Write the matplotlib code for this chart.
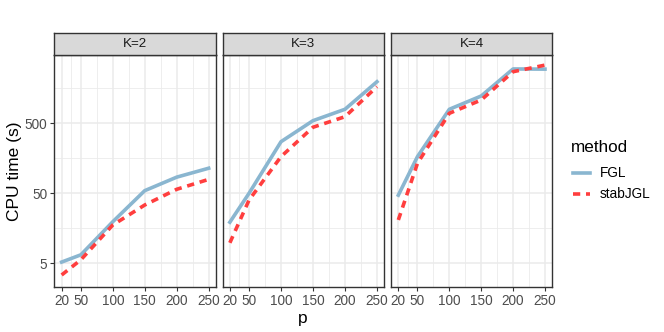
import numpy as np
import matplotlib
matplotlib.use("Agg")
import matplotlib.pyplot as plt
from matplotlib.ticker import FixedLocator, NullFormatter

plt.rcParams['font.family'] = ['Liberation Sans', 'DejaVu Sans']

# data
p = [20, 50, 100, 150, 200, 250]
panels = ["K=2", "K=3", "K=4"]
fgl = {
    "K=2": [5.2, 6.6, 19.6, 54.5, 85, 114],
    "K=3": [19.3, 50, 273, 545, 793, 1963],
    "K=4": [47, 167, 793, 1228, 2990, 2970],
}
stab = {
    "K=2": [3.4, 5.6, 17.6, 34, 57, 79],
    "K=3": [9.8, 40, 167, 439, 621, 1667],
    "K=4": [20.8, 134, 695, 1076, 2730, 3390],
}
y_ticks = [5, 50, 500]

W, H = 664, 332
fig = plt.figure(figsize=(W / 100, H / 100), dpi=100)

# panel pixel extents (left, right)
lefts = [54.3, 222.5, 391.0]
rights = [216.0, 384.3, 552.3]
top, bottom = 55.0, 287.0
strip_top = 32.7

ylo, yhi = 2.29, 4730
xlo, xhi = 20 - 11.5, 250 + 11.5

# minor breaks (midpoints in log space / between x breaks)
y_minor = [np.sqrt(5 * 50), np.sqrt(50 * 500), np.sqrt(500 * 5000)]
x_minor = [35, 75, 125, 175, 225]

blue = "#8AB6D0"
red = "#FF3E3E"
lw = 2.6

for i, k in enumerate(panels):
    l, r = lefts[i], rights[i]
    ax = fig.add_axes([l / W, 1 - bottom / H, (r - l) / W, (bottom - top) / H])
    ax.set_yscale('log')
    ax.set_xlim(xlo, xhi)
    ax.set_ylim(ylo, yhi)
    for v in y_minor:
        ax.axhline(v, color="#EBEBEB", lw=0.6, zorder=0)
    for v in x_minor:
        ax.axvline(v, color="#EBEBEB", lw=0.6, zorder=0)
    for v in y_ticks:
        ax.axhline(v, color="#EBEBEB", lw=1.1, zorder=0)
    for v in p:
        ax.axvline(v, color="#EBEBEB", lw=1.1, zorder=0)
    ax.plot(p, fgl[k], color=blue, lw=lw, zorder=3)
    ax.plot(p, stab[k], color=red, lw=lw, dashes=(2.0, 1.6), zorder=4)
    ax.yaxis.set_major_locator(FixedLocator(y_ticks))
    ax.yaxis.set_minor_locator(FixedLocator([]))
    ax.yaxis.set_minor_formatter(NullFormatter())
    ax.set_xticks(p)
    ax.tick_params(axis='both', length=3, width=0.8, color="#333333",
                   labelcolor="#4D4D4D", labelsize=9.8, pad=2)
    if i == 0:
        ax.set_yticklabels([str(v) for v in y_ticks])
    else:
        ax.tick_params(axis='y', left=False, labelleft=False)
    for s in ax.spines.values():
        s.set_color("#333333")
        s.set_linewidth(1.0)

    sax = fig.add_axes([l / W, 1 - top / H, (r - l) / W, (top - strip_top) / H])
    sax.set_facecolor("#D9D9D9")
    sax.set_xticks([])
    sax.set_yticks([])
    for s in sax.spines.values():
        s.set_color("#333333")
        s.set_linewidth(1.0)
    sax.text(0.5, 0.5, k, ha='center', va='center', fontsize=9.6, color="#1A1A1A",
             transform=sax.transAxes)

fig.text(303 / W, 1 - 318 / H, "p", ha='center', va='center', fontsize=12.5)
fig.text(15 / W, 1 - 171 / H, "CPU time (s)", ha='center', va='center',
         fontsize=12.5, rotation=90)

# legend
fig.text(571 / W, 1 - 148 / H, "method", ha='left', va='center', fontsize=12.3)
fig.add_artist(plt.Line2D([573 / W, 590 / W], [1 - 173 / H, 1 - 173 / H],
                          color=blue, lw=lw, transform=fig.transFigure))
fig.add_artist(plt.Line2D([573 / W, 590 / W], [1 - 194 / H, 1 - 194 / H],
                          color=red, lw=lw, dashes=(2.0, 1.6), transform=fig.transFigure))
fig.text(600 / W, 1 - 173 / H, "FGL", ha='left', va='center', fontsize=9.8)
fig.text(600 / W, 1 - 194 / H, "stabJGL", ha='left', va='center', fontsize=9.8)

fig.savefig("out.png", dpi=100)
